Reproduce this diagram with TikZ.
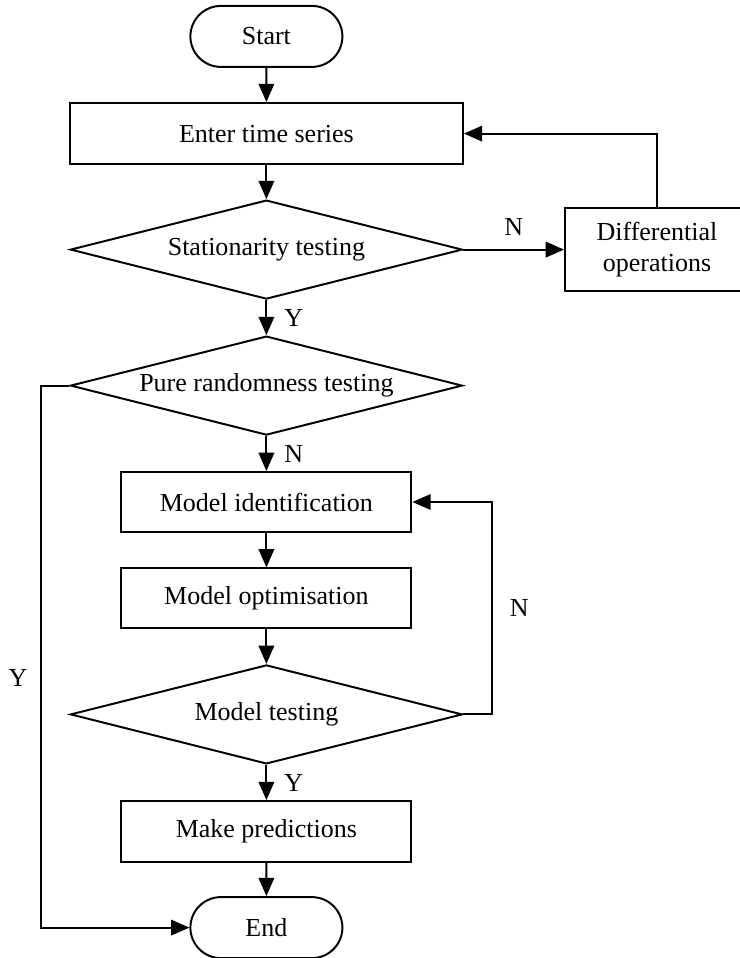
\documentclass[tikz,border=0pt]{standalone}
\usepackage{fontspec}
\setmainfont{Liberation Serif}
\usetikzlibrary{shapes.geometric,shapes.misc,arrows.meta}

\begin{document}
\begin{tikzpicture}[
    font=\fontsize{18.5}{22}\selectfont,
    line width=1.4pt,
    >={Triangle[length=13pt,width=11pt]},
    terminal/.style={draw,rounded rectangle,minimum width=3.8cm,minimum height=1.525cm,inner sep=0pt},
    process/.style={draw,rectangle,minimum width=7.25cm,minimum height=1.5cm,inner sep=0pt},
    decision/.style={draw,diamond,aspect=3.96,minimum width=9.8cm,minimum height=2.475cm,inner sep=0pt}
  ]
  \useasboundingbox (0,0) rectangle (18.5,-23.95);

  \node[terminal] (start) at (6.66,-0.91) {Start};
  \node[process,minimum width=9.825cm,minimum height=1.525cm] (enter) at (6.66,-3.34) {Enter time series};
  \node[decision] (stat) at (6.66,-6.24) {Stationarity testing};
  \node[process,minimum width=4.6cm,minimum height=2.075cm,align=center] (diff) at (16.425,-6.24) {Differential\\operations};
  \node[decision] (pure) at (6.66,-9.64) {Pure randomness testing};
  \node[process] (ident) at (6.66,-12.55) {Model identification};
  \node[process] (optim) at (6.66,-14.96) {Model optimisation};
  \node[decision] (mtest) at (6.66,-17.86) {Model testing};
  \node[process,minimum height=1.525cm] (predict) at (6.66,-20.79) {Make predictions};
  \node[terminal] (end) at (6.66,-23.19) {End};

  \coordinate (mturn) at (12.3,-17.86);
  \coordinate (yturn) at (1.025,-9.64);

  \begin{scope}[->]
    \draw (start) -- (enter);
    \draw (enter) -- (stat);
    \draw (stat) -- node[above=9pt,inner sep=0pt]{N} (diff);
    \draw (diff.north) |- (enter.east);
    \draw (stat) -- node[right=12pt,inner sep=0pt]{Y} (pure);
    \draw (pure) -- node[right=12pt,inner sep=0pt]{N} (ident);
    \draw (ident) -- (optim);
    \draw (optim) -- (mtest);
    \draw (mtest.east) -- (mturn) |- node[pos=0.25,right=12pt,inner sep=0pt]{N} (ident.east);
    \draw (mtest) -- node[right=12pt,inner sep=0pt]{Y} (predict);
    \draw (predict) -- (end);
    \draw (pure.west) -- (yturn) |- node[pos=0.27,left=9pt,inner sep=0pt]{Y} (end.west);
  \end{scope}
\end{tikzpicture}
\end{document}
